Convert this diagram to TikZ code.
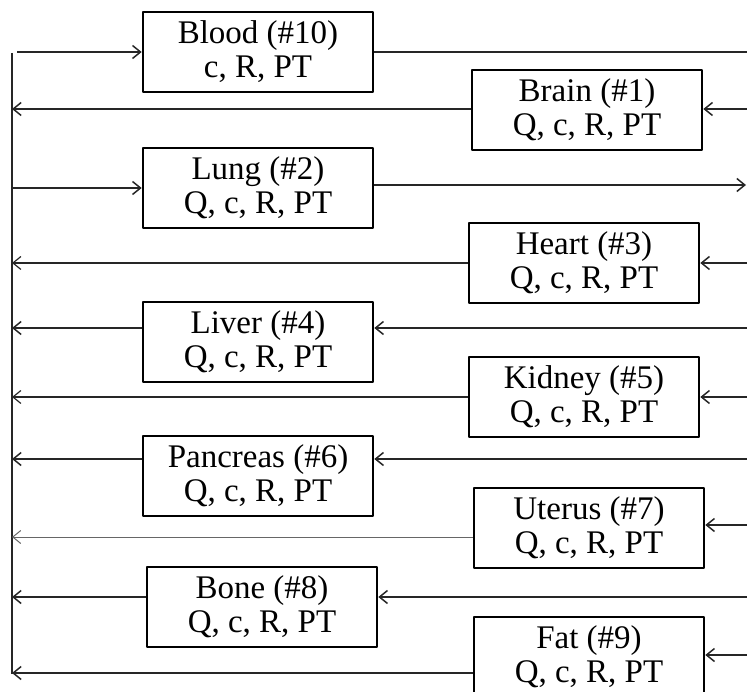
\documentclass[tikz,border=0pt]{standalone}
\usepackage{fontspec}
\setmainfont{Liberation Serif}
\usetikzlibrary{arrows.meta}
\tikzset{
  organ/.style={draw, line width=2.6pt, minimum width=230pt, minimum height=80pt, align=center, inner sep=0pt,
    font=\fontsize{33}{34}\selectfont},
  flow/.style={line width=1.5pt, black!85}
}
\begin{document}
\begin{tikzpicture}[x=1pt, y=-1pt, line join=round, >={Straight Barb[length=8pt,width=13pt]}]
 \useasboundingbox (0,0) rectangle (747,692);
 % compartments
 \node[organ] (blood) at (258,52) {Blood (\#10)\\c, R, PT};
 \node[organ] (brain) at (587,110) {Brain (\#1)\\Q, c, R, PT};
 \node[organ] (lung) at (258,188) {Lung (\#2)\\Q, c, R, PT};
 \node[organ] (heart) at (584,263) {Heart (\#3)\\Q, c, R, PT};
 \node[organ] (liver) at (258,342) {Liver (\#4)\\Q, c, R, PT};
 \node[organ] (kidney) at (584,397) {Kidney (\#5)\\Q, c, R, PT};
 \node[organ] (pancreas) at (258,476) {Pancreas (\#6)\\Q, c, R, PT};
 \node[organ] (uterus) at (589,528) {Uterus (\#7)\\Q, c, R, PT};
 \node[organ] (bone) at (262,607) {Bone (\#8)\\Q, c, R, PT};
 \node[organ] (fat) at (589,657) {Fat (\#9)\\Q, c, R, PT};
 % left bus and right edge ends
 \coordinate (bustop) at (12,53);
 \coordinate (busbot) at (12,674);
 \draw[flow] (bustop) -- (busbot);
 \coordinate (inBlood) at (17,52);
 \coordinate (outBlood) at (747,52);
 \coordinate (inBrain) at (747,109);
 \coordinate (inLung) at (12,188);
 \coordinate (outLung) at (746,185);
 \coordinate (inHeart) at (747,263);
 \coordinate (inLiver) at (747,328);
 \coordinate (inKidney) at (747,397);
 \coordinate (inPancreas) at (747,459);
 \coordinate (inUterus) at (747,525);
 \coordinate (outUterus) at (12,537);
 \coordinate (inBone) at (747,597);
 \coordinate (inFat) at (747,655);
 \coordinate (outFat) at (12,673);
 % arterial side
 \draw[flow,->] (inBlood) -- (inBlood -| blood.west);
 \draw[flow] (blood.east |- outBlood) -- (outBlood);
 \draw[flow,->] (inLung) -- (inLung -| lung.west);
 \draw[flow,->] (lung.east |- outLung) -- (outLung);
 \draw[flow,->] (inBrain) -- (inBrain -| brain.east);
 \draw[flow,->] (inHeart) -- (inHeart -| heart.east);
 \draw[flow,->] (inLiver) -- (inLiver -| liver.east);
 \draw[flow,->] (inKidney) -- (inKidney -| kidney.east);
 \draw[flow,->] (inPancreas) -- (inPancreas -| pancreas.east);
 \draw[flow,->] (inUterus) -- (inUterus -| uterus.east);
 \draw[flow,->] (inBone) -- (inBone -| bone.east);
 \draw[flow,->] (inFat) -- (inFat -| fat.east);
 % venous return
 \draw[flow,->] (brain.west |- inBrain) -- (bustop |- inBrain);
 \draw[flow,->,line width=1.2pt] (heart.west) -- (bustop |- heart.west);
 \draw[flow,->] (liver.west |- inLiver) -- (bustop |- inLiver);
 \draw[flow,->,line width=1.2pt] (kidney.west |- inKidney) -- (bustop |- inKidney);
 \draw[flow,->] (pancreas.west |- inPancreas) -- (bustop |- inPancreas);
 \draw[flow,->,line width=1pt,black!60] (uterus.west |- outUterus) -- (outUterus);
 \draw[flow,->] (bone.west |- inBone) -- (bustop |- inBone);
 \draw[flow,->] (fat.west |- outFat) -- (outFat);
\end{tikzpicture}
\end{document}
